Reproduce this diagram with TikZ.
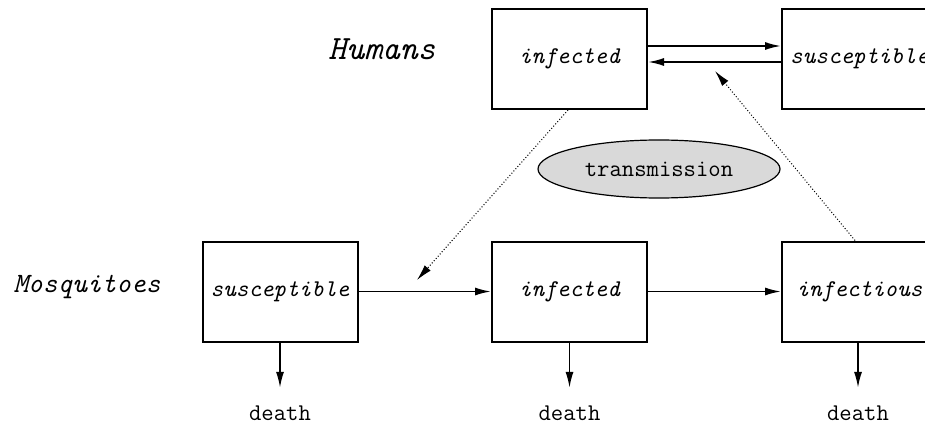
\documentclass[tikz,border=0pt]{standalone}
\usepackage{fontspec}
\usetikzlibrary{arrows.meta,shapes.geometric}
\begin{document}
\begin{tikzpicture}[x=0.5pt,y=-0.5pt,
  box/.style={draw, line width=1pt, minimum width=77.5pt, minimum height=50pt, inner sep=0pt,
    font=\fontsize{12}{14}\selectfont\ttfamily\itshape},
  flow/.style={line width=0.9pt, -{Latex[length=8pt,width=4pt]}},
  infl/.style={line width=0.5pt, densely dotted, -{Latex[length=8pt,width=4pt]}},
  deathlbl/.style={font=\fontsize{12}{14}\selectfont\ttfamily, anchor=base, inner sep=0pt},
  grouplbl/.style={anchor=base, inner sep=0pt},
  trans/.style={ellipse, draw, line width=0.6pt, fill=gray!30, minimum width=121pt, minimum height=29pt,
    inner sep=0pt, font=\fontsize{12}{14}\selectfont\ttfamily}]
\useasboundingbox (0,0) rectangle (925,427);
\clip (0,0) rectangle (925,427);
% group labels
\node[grouplbl, font=\fontsize{17}{20}\selectfont\ttfamily\itshape] (hum) at (382,60) {Humans};
\node[grouplbl, font=\fontsize{14}{17}\selectfont\ttfamily\itshape] (mos) at (87,292) {Mosquitoes};
% human boxes
\node[box] (hi) at (569.5,59) {infected};
\node[box] (hs) at (859.5,59) {susceptible};
% mosquito boxes
\node[box] (ms) at (280,291.5) {susceptible};
\node[box] (mi) at (569.5,291.5) {infected};
\node[box] (mc) at (859.5,291.5) {infectious};
% death labels
\node[deathlbl] (ds) at (280,420) {death};
\node[deathlbl] (di) at (569.5,420) {death};
\node[deathlbl] (dc) at (858,420) {death};
% transmission
\node[trans] (tr) at (659,169) {transmission};
% human flows
\draw[flow] ([yshift=6.5pt]hi.east) -- ([yshift=6.5pt]hs.west);
\draw[flow] ([yshift=-1.5pt]hs.west) -- ([yshift=-1.5pt]hi.east);
% mosquito flows
\draw[flow] (ms) -- (mi);
\draw[flow] (mi) -- (mc);
\draw[flow, shorten >=8.5pt] (ms.south) -- (ds.north);
\draw[flow, shorten >=8.5pt] (mi.south) -- (di.north);
\draw[flow, shorten >=8.5pt] (mc.south -| dc.north) -- (dc.north);
% transmission arrows
\coordinate (t1) at (417,280);
\coordinate (t2) at (715,71);
\draw[infl] ([xshift=-0.75pt]hi.south) -- (t1);
\draw[infl] ([xshift=-2.25pt]mc.north) -- (t2);
\end{tikzpicture}
\end{document}
